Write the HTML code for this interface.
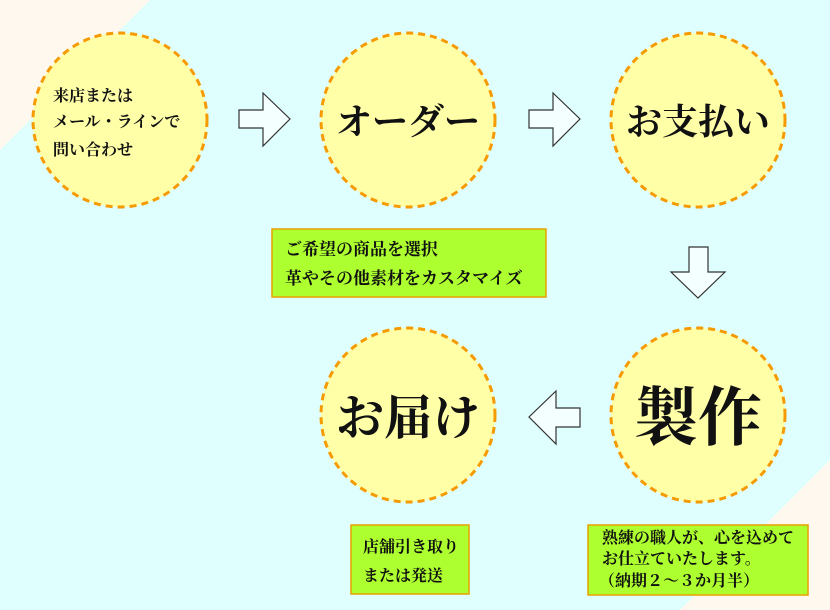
<!DOCTYPE html>
<html><head><meta charset="utf-8"><style>
body{margin:0;width:830px;height:610px;overflow:hidden;background:#dfffff;}
svg{display:block}
text{font-family:"Liberation Serif","Noto Serif CJK SC","Noto Serif CJK JP",serif;font-weight:bold;fill:#111;}
</style></head><body>
<svg width="830" height="610" viewBox="0 0 830 610">
<rect width="830" height="610" fill="#dfffff"/>
<polygon points="0,0 150,0 0,150" fill="#fff8ef"/>
<polygon points="830,460 830,610 680,610" fill="#fff8ef"/>
<g fill="#ffffa8" stroke="#f59a00" stroke-width="3" stroke-dasharray="7,5">
<circle cx="120" cy="120" r="87"/>
<circle cx="408" cy="120" r="87"/>
<circle cx="698" cy="120" r="87"/>
<circle cx="408" cy="415" r="87"/>
<circle cx="698" cy="415" r="87"/>
</g>
<g fill="#f4ffff" stroke="#333" stroke-width="1.2">
<polygon points="239,110 263,110 263,93 290,119 263,146 263,128 239,128"/>
<polygon points="529,110 553,110 553,93 580,119 553,146 553,128 529,128"/>
<polygon points="689,247 708,247 708,272 725,272 698,298 671,272 689,272"/>
<polygon points="580,408 556,408 556,391 529,417 556,444 556,427 580,427"/>
</g>
<text x="53" y="101" font-size="16">来店または</text>
<text x="53" y="127" font-size="16">メール・ラインで</text>
<text x="53" y="155" font-size="16">問い合わせ</text>
<text x="408" y="134" font-size="36" text-anchor="middle">オーダー</text>
<text x="698" y="134" font-size="36" text-anchor="middle">お支払い</text>
<text x="408" y="434" font-size="48" text-anchor="middle">お届け</text>
<text x="698" y="440" font-size="64" text-anchor="middle">製作</text>
<g fill="#adff2f" stroke="#e8a000" stroke-width="1.5">
<rect x="272" y="229" width="274" height="68"/>
<rect x="351" y="525" width="118" height="69"/>
<rect x="588" y="525" width="220" height="70"/>
</g>
<text x="285" y="255" font-size="17">ご希望の商品を選択</text>
<text x="285" y="284" font-size="17">革やその他素材をカスタマイズ</text>
<text x="363" y="552" font-size="16">店舗引き取り</text>
<text x="363" y="581" font-size="16">または発送</text>
<text x="602" y="543" font-size="16">熟練の職人が、心を込めて</text>
<text x="602" y="564" font-size="16">お仕立ていたします。</text>
<text x="599" y="586" font-size="16">（納期２～３か月半）</text>
</svg>
</body></html>
